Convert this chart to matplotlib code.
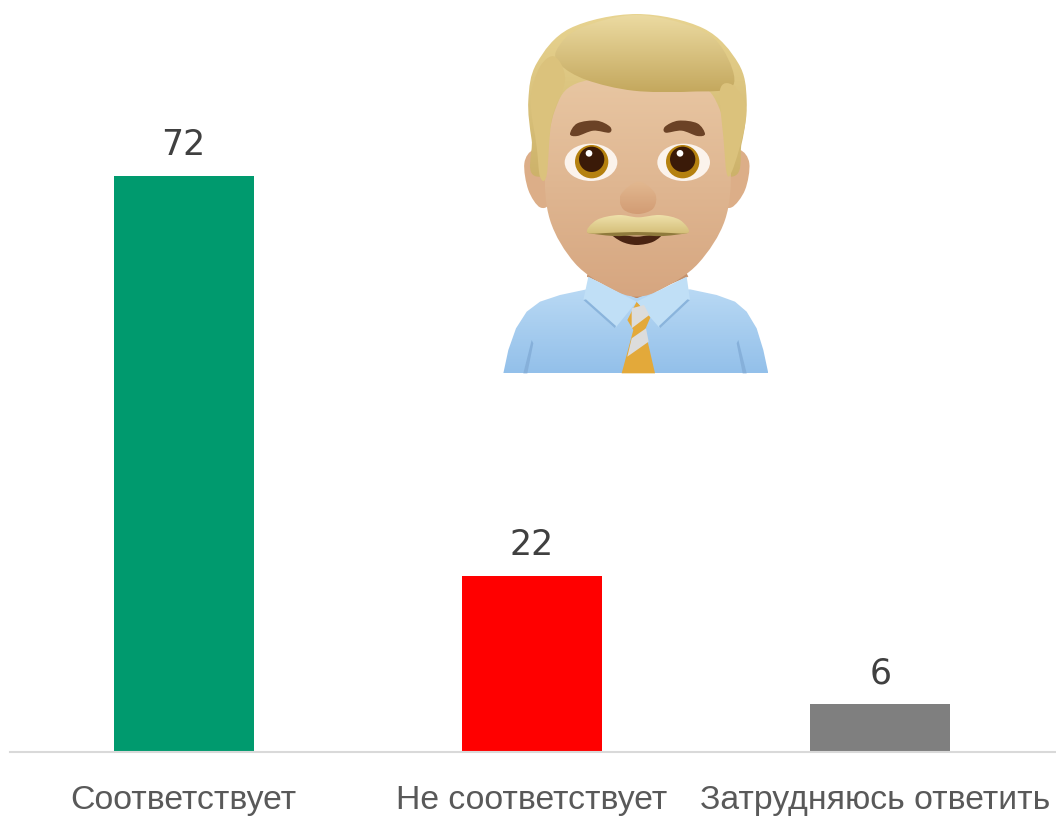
import numpy as np
import matplotlib
matplotlib.use('Agg')
import matplotlib.pyplot as plt
from matplotlib.colors import LinearSegmentedColormap
from matplotlib.patches import Circle, Ellipse, PathPatch
from matplotlib.path import Path
from matplotlib.transforms import ScaledTranslation

categories = ['Соответствует', 'Не соответствует', 'Затрудняюсь ответить']
values = [72, 22, 6]
colors = ['#009a6e', '#ff0000', '#7f7f7f']

W, H = 1056, 817
fig = plt.figure(figsize=(W / 100, H / 100), dpi=100)

# chart area: baseline at y=751.5, axis runs x=9.5..1054.5
ax = fig.add_axes([9.5 / W, (H - 751.5) / H, 1045 / W, 751.5 / H])
bars = ax.bar(categories, values, width=0.402, color=colors)
ax.set_xlim(-0.5, 2.5)
ax.set_ylim(0, 751.5 / 8)
ax.bar_label(bars, padding=9.5, fontsize=25, color='#404040', family='DejaVu Sans')
ax.set_yticks([])
for s in ['top', 'left', 'right']:
    ax.spines[s].set_visible(False)
ax.spines['bottom'].set_color('#d9d9d9')
ax.spines['bottom'].set_linewidth(1.5)
ax.tick_params(axis='x', length=0, pad=24, labelsize=24.3, labelcolor='#595959')
for t in ax.get_xticklabels():
    t.set_family(['Liberation Sans Narrow', 'Liberation Sans'])
# last label sits a little left of its bar in the original
last = ax.get_xticklabels()[2]
last.set_transform(last.get_transform() + ScaledTranslation(-5 / 100, 0, fig.dpi_scale_trans))

# emoji, drawn in crop coordinates (3x, origin at 490,0)
em = fig.add_axes([490 / W, (H - 385) / H, 290 / W, 385 / H])
em.set_xlim(0, 870)
em.set_ylim(1155, 0)
em.axis('off')


def smooth(points):
    # closed curve through points (Catmull-Rom to bezier)
    p = np.array(points, dtype=float)
    n = len(p)
    verts = [p[0]]
    codes = [Path.MOVETO]
    for i in range(n):
        p0, p1, p2, p3 = p[i - 1], p[i], p[(i + 1) % n], p[(i + 2) % n]
        verts += [p1 + (p2 - p0) / 6, p2 - (p3 - p1) / 6, p2]
        codes += [Path.CURVE4] * 3
    return Path(verts, codes)


def poly(points):
    return Path(list(points) + [points[0]], [Path.MOVETO] + [Path.LINETO] * (len(points) - 1) + [Path.CLOSEPOLY])


def grad(path, top, bottom, z=1):
    # vertical gradient clipped to a shape
    ext = path.get_extents()
    cmap = LinearSegmentedColormap.from_list('g', [top, bottom])
    im = em.imshow(np.linspace(0, 1, 128).reshape(-1, 1), cmap=cmap, aspect='auto',
                   extent=[ext.x0, ext.x1, ext.y1, ext.y0], zorder=z, interpolation='bilinear')
    patch = PathPatch(path, fc='none', ec='none', transform=em.transData)
    em.add_patch(patch)
    im.set_clip_path(patch)
    em.set_xlim(0, 870)
    em.set_ylim(1155, 0)


def fill(path, color, z=1):
    em.add_patch(PathPatch(path, fc=color, ec='none', zorder=z))


# shirt
shirt = poly([(40, 1120), (55, 1050), (78, 985), (110, 935), (150, 905), (210, 885), (290, 868), (440, 880),
              (600, 868), (680, 885), (735, 905), (770, 935), (800, 985), (820, 1050), (835, 1120)])
grad(shirt, '#b9d9f4', '#93c0ea', z=1)
fill(poly([(100, 1120), (125, 1020), (130, 1030), (112, 1120)]), '#86b0da', 2)
fill(poly([(770, 1120), (745, 1020), (740, 1030), (758, 1120)]), '#86b0da', 2)

# ears
fill(smooth([(130, 450), (103, 490), (115, 570), (150, 622), (180, 600), (175, 470)]), '#dcae88', 3)
fill(smooth([(750, 450), (778, 490), (765, 570), (725, 622), (695, 600), (705, 470)]), '#dcae88', 3)

# neck
grad(poly([(310, 780), (570, 780), (595, 830), (440, 895), (290, 830)]), '#c99872', '#c08c68', z=3)

# hair back
hair_back = smooth([(115, 300), (140, 190), (240, 85), (440, 42), (640, 85), (745, 190), (770, 300),
                    (755, 430), (715, 530), (440, 400), (150, 530), (125, 420)])
grad(hair_back, '#e8d491', '#cdb26a', z=4)

# face
face = smooth([(195, 330), (260, 250), (440, 230), (620, 250), (690, 330), (722, 500), (705, 660),
               (625, 790), (520, 865), (440, 890), (360, 865), (255, 790), (180, 660), (165, 500)])
grad(face, '#e8c6a2', '#d6a680', z=5)

# hair front
hair_front = smooth([(200, 150), (270, 85), (440, 45), (620, 85), (700, 150), (728, 258),
                     (600, 275), (430, 272), (290, 240), (212, 195)])
grad(hair_front, '#ecdba2', '#c4a85e', z=6)
fill(smooth([(195, 170), (150, 200), (122, 300), (140, 440), (150, 530), (170, 525), (185, 360), (225, 240)]), '#dbc27c', 6)
fill(smooth([(690, 270), (728, 255), (768, 320), (755, 420), (715, 530), (700, 410)]), '#dbc27c', 6)

# eyebrows
fill(smooth([(240, 402), (262, 370), (320, 362), (360, 380), (358, 398), (310, 392), (262, 408)]), '#6b4226', 7)
fill(smooth([(645, 402), (622, 370), (565, 362), (525, 380), (527, 398), (575, 392), (622, 408)]), '#6b4226', 7)

# eyes
for cx, wx in [(305, 303), (578, 581)]:
    em.add_patch(Ellipse((wx, 487), 158, 112, fc='#fbf3ec', ec='none', zorder=7))
    em.add_patch(Circle((cx, 485), 50, fc='#b5810f', ec='none', zorder=8))
    em.add_patch(Circle((cx, 478), 38, fc='#3a1a08', ec='none', zorder=9))
    em.add_patch(Ellipse((cx - 8, 460), 20, 20, fc='white', ec='none', zorder=10))

# nose
grad(smooth([(445, 545), (495, 580), (490, 625), (445, 642), (400, 628), (392, 585)]), '#e2b890', '#d29c74', z=7)

# mouth and moustache
fill(smooth([(365, 700), (440, 710), (515, 700), (490, 725), (440, 735), (395, 725)]), '#4a2412', 8)
fill(smooth([(292, 698), (370, 696), (440, 696), (520, 696), (595, 698), (520, 708), (440, 706), (370, 708)]), '#8f7a3c', 8)
grad(smooth([(292, 698), (320, 660), (385, 645), (445, 652), (510, 645), (570, 660), (595, 698),
             (520, 698), (440, 696), (370, 698)]), '#eee0aa', '#d4be78', z=9)

# collar
fill(poly([(295, 830), (280, 900), (375, 985), (440, 905)]), '#c0dff6', 10)
fill(poly([(590, 830), (600, 900), (510, 985), (440, 905)]), '#c0dff6', 10)
fill(poly([(280, 900), (375, 985), (378, 978), (288, 898)]), '#8ab4dc', 11)
fill(poly([(600, 900), (510, 985), (507, 978), (592, 898)]), '#8ab4dc', 11)

# tie
tie = poly([(440, 905), (412, 960), (430, 990), (395, 1120), (495, 1120), (465, 990), (482, 950)])
fill(tie, '#e3a93a', 9)
stripes = [[(425, 925), (462, 915), (478, 945), (425, 985)],
           [(425, 1015), (468, 985), (476, 1025), (412, 1070)]]
for s in stripes:
    fill(poly(s), '#dcdcdc', 10)

fig.savefig('out.png', dpi=100)
